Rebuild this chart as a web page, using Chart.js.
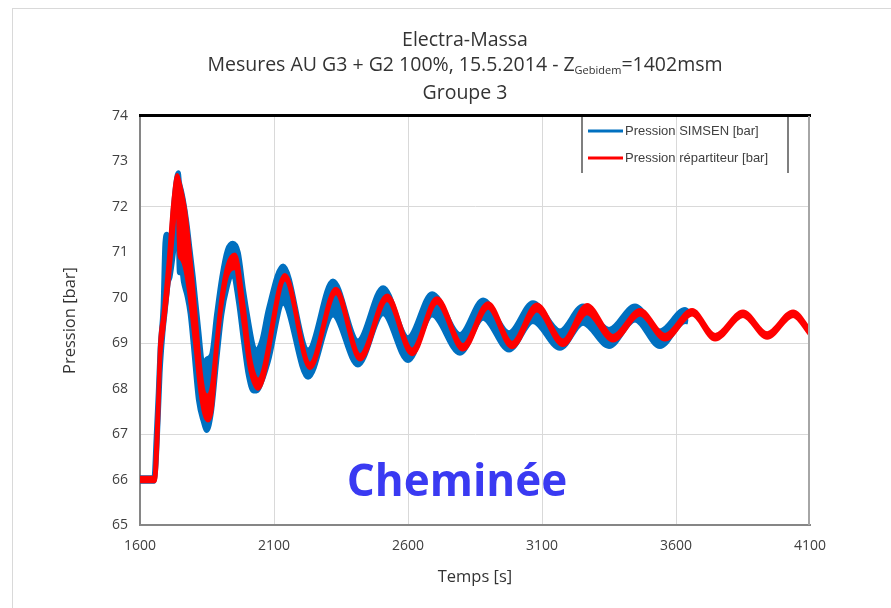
<!DOCTYPE html>
<html><head><meta charset="utf-8">
<script src="https://cdn.jsdelivr.net/npm/chart.js@4.4.0/dist/chart.umd.min.js"></script>
<style>html,body{margin:0;padding:0;background:#fff;}canvas{display:block}</style>
</head><body>
<canvas id="c" width="891" height="608"></canvas>
<script>
// ---- data ----
const xTicks = [1600, 2100, 2600, 3100, 3600, 4100];
const yTicks = [65, 66, 67, 68, 69, 70, 71, 72, 73, 74];
const yGridShown = [67, 69, 72];

const seriesNames = ['Pression SIMSEN [bar]', 'Pression répartiteur [bar]'];
const titleLine1 = 'Electra-Massa';
const titleLine2a = 'Mesures AU G3 + G2 100%, 15.5.2014 - Z';
const titleLine2sub = 'Gebidem';
const titleLine2b = '=1402msm';
const titleLine3 = 'Groupe 3';
const xTitle = 'Temps [s]';
const yTitle = 'Pression [bar]';
const annotation = 'Cheminée';

// Pression répartiteur (red) : time, upper edge, lower edge of the trace
const redT  = [1600, 1654, 1660, 1668, 1675, 1687, 1706, 1724, 1739, 1747, 1755, 1768, 1780, 1795, 1810, 1825, 1840, 1854, 1868, 1886, 1905, 1926, 1954, 1986, 2010, 2041, 2141, 2234, 2331, 2421, 2522, 2615, 2708, 2805, 2899, 2988, 3081, 3178, 3268, 3365, 3466, 3559, 3660, 3746, 3850, 3940, 4037, 4100];
const redHi = [66.04, 66.04, 66.7, 67.8, 69.0, 69.6, 70.75, 72.1, 72.7, 72.55, 72.35, 71.95, 71.35, 70.45, 69.45, 68.45, 67.9, 67.85, 68.05, 69.05, 70.05, 70.7, 70.95, 69.85, 68.7, 68.2, 70.5, 68.55, 70.2, 68.74, 70.05, 68.86, 69.99, 68.96, 69.88, 69.01, 69.85, 69.06, 69.84, 69.16, 69.73, 69.18, 69.73, 69.18, 69.7, 69.22, 69.7, 69.29];
const redLo = [65.96, 65.96, 66.2, 67.3, 68.6, 69.3, 70.3, 71.5, 72.3, 70.95, 70.85, 70.65, 70.25, 69.55, 68.75, 67.95, 67.45, 67.3, 67.55, 68.85, 69.85, 70.5, 70.65, 69.45, 68.45, 68.0, 70.4, 68.45, 70.1, 68.64, 69.95, 68.76, 69.89, 68.86, 69.78, 68.91, 69.72, 68.96, 69.66, 69.06, 69.63, 69.08, 69.63, 69.08, 69.6, 69.12, 69.6, 69.19];

// Pression SIMSEN (blue) : time, upper edge, lower edge of the band
const blueT  = [1600, 1652, 1660, 1668, 1675, 1686, 1693, 1700, 1706, 1712, 1724, 1737, 1743, 1747, 1755, 1762, 1775, 1787, 1799, 1818, 1836, 1849, 1867, 1886, 1905, 1926, 1946, 1967, 1986, 2004, 2023, 2035, 2054, 2079, 2134, 2227, 2320, 2413, 2507, 2600, 2690, 2794, 2880, 2977, 3066, 3167, 3253, 3350, 3447, 3540, 3634, 3645];
const blueHi = [66.04, 66.04, 66.9, 67.9, 68.9, 69.8, 71.2, 71.4, 71.25, 70.95, 71.95, 72.65, 72.75, 72.55, 72.35, 72.15, 71.65, 71.05, 70.45, 69.35, 68.5, 68.65, 68.75, 69.65, 70.45, 71.05, 71.2, 70.99, 70.18, 69.52, 68.93, 68.85, 69.05, 69.75, 70.7, 68.85, 70.37, 69.05, 70.22, 69.12, 70.09, 69.19, 69.95, 69.23, 69.89, 69.27, 69.82, 69.3, 69.82, 69.27, 69.74, 69.7];
const blueLo = [65.96, 65.96, 66.35, 67.35, 68.35, 69.25, 69.65, 70.05, 70.35, 70.45, 70.95, 71.65, 71.25, 70.55, 70.65, 70.35, 70.05, 69.65, 68.95, 67.75, 67.28, 67.08, 67.5, 68.6, 69.62, 70.25, 70.55, 69.92, 69.05, 68.3, 67.95, 67.95, 68.15, 68.6, 69.88, 68.25, 69.62, 68.52, 69.65, 68.62, 69.62, 68.78, 69.55, 68.85, 69.48, 68.89, 69.44, 68.93, 69.51, 68.93, 69.48, 69.47];

const RED = '#ff0000';
const BLUE = '#0070c0';
const TXT = '#404040';
const FONT = '"Open Sans", "Liberation Sans", sans-serif';

function pts(t, v) { return t.map((x, i) => ({ x: x, y: v[i] })); }

const decor = {
  id: 'decor',
  beforeDraw(chart) {
    const ctx = chart.ctx;
    ctx.save();
    ctx.fillStyle = '#fff';
    ctx.fillRect(0, 0, chart.width, chart.height);
    ctx.strokeStyle = '#d9d9d9';
    ctx.lineWidth = 1;
    ctx.strokeRect(12.5, 8.5, 1000, 1000);
    // titles
    ctx.fillStyle = '#333';
    ctx.textBaseline = 'middle';
    ctx.textAlign = 'center';
    const cx = 465;
    const big = '19.5px ' + FONT;
    ctx.font = big;
    ctx.fillText(titleLine1, cx, 40);
    ctx.fillText(titleLine3, cx, 93);
    // line 2 with subscript
    ctx.textAlign = 'left';
    const subFont = '11px ' + FONT;
    const w1 = ctx.measureText(titleLine2a).width;
    const w3 = ctx.measureText(titleLine2b).width;
    ctx.font = subFont;
    const w2 = ctx.measureText(titleLine2sub).width;
    let x = cx - (w1 + w2 + w3) / 2;
    ctx.font = big;
    ctx.fillText(titleLine2a, x, 65);
    x += w1;
    ctx.font = subFont;
    ctx.fillText(titleLine2sub, x, 71);
    x += w2;
    ctx.font = big;
    ctx.fillText(titleLine2b, x, 65);
    ctx.restore();
  },
  afterDraw(chart) {
    const ctx = chart.ctx;
    const a = chart.chartArea;
    ctx.save();
    // plot frame: black top, grey right
    ctx.fillStyle = '#000';
    ctx.fillRect(a.left - 1, a.top - 2, a.right - a.left + 2, 3);
    ctx.fillStyle = '#a6a6a6';
    ctx.fillRect(a.right - 2, a.top, 2, a.bottom - a.top);
    // legend box
    ctx.fillStyle = '#7f7f7f';
    ctx.fillRect(581, a.top + 1, 2, 56);
    ctx.fillRect(787, a.top + 1, 2, 56);
    ctx.lineWidth = 3;
    ctx.strokeStyle = BLUE;
    ctx.beginPath(); ctx.moveTo(588, 131); ctx.lineTo(623, 131); ctx.stroke();
    ctx.strokeStyle = RED;
    ctx.beginPath(); ctx.moveTo(588, 158); ctx.lineTo(623, 158); ctx.stroke();
    ctx.fillStyle = TXT;
    ctx.font = '13px "Liberation Sans", sans-serif';
    ctx.textAlign = 'left';
    ctx.textBaseline = 'middle';
    ctx.fillText(seriesNames[0], 625, 131);
    ctx.fillText(seriesNames[1], 625, 158);
    // annotation
    ctx.fillStyle = '#3a3af2';
    ctx.font = 'bold 44px ' + FONT;
    ctx.textAlign = 'center';
    ctx.fillText(annotation, 457, 483);
    ctx.restore();
  }
};

new Chart(document.getElementById('c'), {
  type: 'line',
  data: {
    datasets: [
      { label: seriesNames[1], data: pts(redT, redHi), borderColor: RED, backgroundColor: RED, borderWidth: 4, pointRadius: 0, fill: false, cubicInterpolationMode: 'monotone', order: 0 },
      { label: seriesNames[1] + ' lo', data: pts(redT, redLo), borderColor: RED, backgroundColor: RED, borderWidth: 4, pointRadius: 0, fill: '-1', cubicInterpolationMode: 'monotone', order: 0 },
      { label: seriesNames[0], data: pts(blueT, blueHi), borderColor: BLUE, backgroundColor: BLUE, borderWidth: 5, pointRadius: 0, fill: false, cubicInterpolationMode: 'monotone', order: 1 },
      { label: seriesNames[0] + ' lo', data: pts(blueT, blueLo), borderColor: BLUE, backgroundColor: BLUE, borderWidth: 5, pointRadius: 0, fill: '-1', cubicInterpolationMode: 'monotone', order: 1 }
    ]
  },
  options: {
    responsive: false,
    animation: false,
    devicePixelRatio: 1,
    layout: { padding: { left: 0, right: 81, top: 116, bottom: 0 } },
    plugins: { legend: { display: false }, tooltip: { enabled: false }, title: { display: false } },
    scales: {
      x: {
        type: 'linear', min: 1600, max: 4100,
        afterBuildTicks: s => { s.ticks = xTicks.map(v => ({ value: v })); },
        afterFit: s => { s.height = 83; },
        grid: { drawTicks: false, color: c => (c.tick && (c.tick.value === 1600 || c.tick.value === 4100)) ? 'rgba(0,0,0,0)' : '#d9d9d9', lineWidth: 1 },
        border: { display: true, color: '#868686', width: 2 },
        ticks: { color: '#404040', font: { family: FONT, size: 14 }, padding: 13, maxRotation: 0, autoSkip: false, callback: v => String(v) },
        title: { display: true, text: xTitle, color: '#333', font: { family: FONT, size: 16.5 }, padding: { top: 0, bottom: 21 } }
      },
      y: {
        min: 65, max: 74,
        afterBuildTicks: s => { s.ticks = yTicks.map(v => ({ value: v })); },
        afterFit: s => { s.width = 140; },
        grid: { drawTicks: false, color: c => (c.tick && yGridShown.includes(c.tick.value)) ? '#d9d9d9' : 'rgba(0,0,0,0)', lineWidth: 1 },
        border: { display: true, color: '#868686', width: 2 },
        ticks: { color: '#404040', font: { family: FONT, size: 14 }, padding: 12, callback: v => String(v) },
        title: { display: true, text: yTitle, color: '#333', font: { family: FONT, size: 16.5 }, padding: { top: 60, bottom: 0 } }
      }
    }
  },
  plugins: [decor]
});
</script>
</body></html>
